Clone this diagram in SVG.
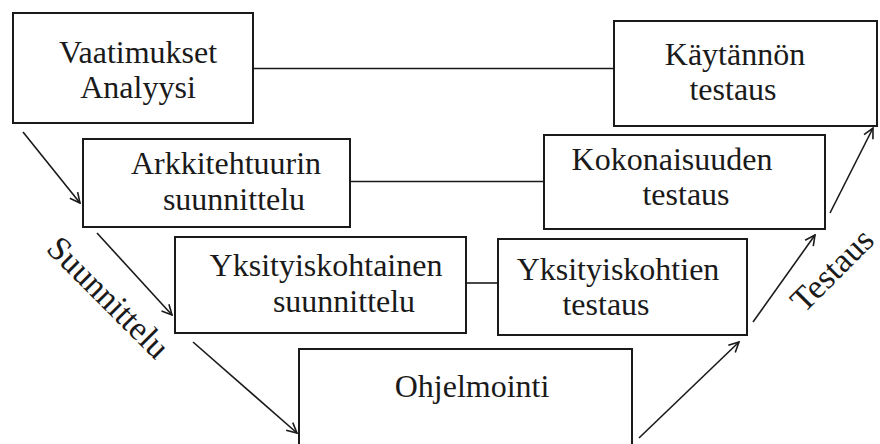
<svg xmlns="http://www.w3.org/2000/svg" width="880" height="444" viewBox="0 0 880 444">
<defs>
<marker id="ah" viewBox="0 0 12 12" refX="11" refY="6" markerWidth="12" markerHeight="12" markerUnits="userSpaceOnUse" orient="auto">
<path d="M1,1 L11,6 L1,11" fill="none" stroke="#1a1a1a" stroke-width="1.6"/>
</marker>
</defs>
<rect width="880" height="444" fill="#fff"/>
<g id="connectors" stroke="#1a1a1a" stroke-width="1.6" fill="none">
<line x1="253" y1="68.5" x2="614" y2="68.5"/>
<line x1="350" y1="181.5" x2="544" y2="181.5"/>
<line x1="466" y1="283" x2="498" y2="283"/>
<line x1="23" y1="132" x2="80" y2="203" marker-end="url(#ah)"/>
<line x1="97" y1="233" x2="172" y2="315" marker-end="url(#ah)"/>
<line x1="193" y1="342" x2="297" y2="433" marker-end="url(#ah)"/>
<line x1="639" y1="438" x2="739" y2="342" marker-end="url(#ah)"/>
<line x1="753" y1="322" x2="815" y2="235" marker-end="url(#ah)"/>
<line x1="830" y1="213" x2="873" y2="128" marker-end="url(#ah)"/>
</g>
<g id="nodes" font-family="Liberation Serif" font-size="32" fill="#1a1a1a">
<g id="n1"><rect x="13" y="13" width="240" height="110" fill="#fff" stroke="#1a1a1a" stroke-width="2"/>
<text x="138" y="63" text-anchor="middle">Vaatimukset</text><text x="138" y="98" text-anchor="middle">Analyysi</text></g>
<g id="n2"><rect x="614" y="21" width="263" height="105" fill="#fff" stroke="#1a1a1a" stroke-width="2"/>
<text x="735" y="65" text-anchor="middle">Käytännön</text><text x="733" y="100" text-anchor="middle">testaus</text></g>
<g id="n3"><rect x="83" y="139" width="267" height="88" fill="#fff" stroke="#1a1a1a" stroke-width="2"/>
<text x="226" y="174" text-anchor="middle">Arkkitehtuurin</text><text x="234" y="210" text-anchor="middle">suunnittelu</text></g>
<g id="n4"><rect x="544" y="135" width="281" height="94" fill="#fff" stroke="#1a1a1a" stroke-width="2"/>
<text x="672" y="170" text-anchor="middle">Kokonaisuuden</text><text x="686" y="205" text-anchor="middle">testaus</text></g>
<g id="n5"><rect x="175" y="237" width="291" height="96" fill="#fff" stroke="#1a1a1a" stroke-width="2"/>
<text x="326" y="276" text-anchor="middle">Yksityiskohtainen</text><text x="344" y="312" text-anchor="middle">suunnittelu</text></g>
<g id="n6"><rect x="498" y="239" width="249" height="96" fill="#fff" stroke="#1a1a1a" stroke-width="2"/>
<text x="618" y="280" text-anchor="middle">Yksityiskohtien</text><text x="606" y="315" text-anchor="middle">testaus</text></g>
<g id="n7"><rect x="299" y="349" width="333" height="110" fill="#fff" stroke="#1a1a1a" stroke-width="2"/>
<text x="472" y="397" text-anchor="middle">Ohjelmointi</text></g>
</g>
<g id="labels" font-family="Liberation Serif" font-size="34" fill="#1a1a1a">
<text transform="translate(45,250) rotate(45)">Suunnittelu</text>
<text transform="translate(804,314) rotate(-45)">Testaus</text>
</g>
</svg>
